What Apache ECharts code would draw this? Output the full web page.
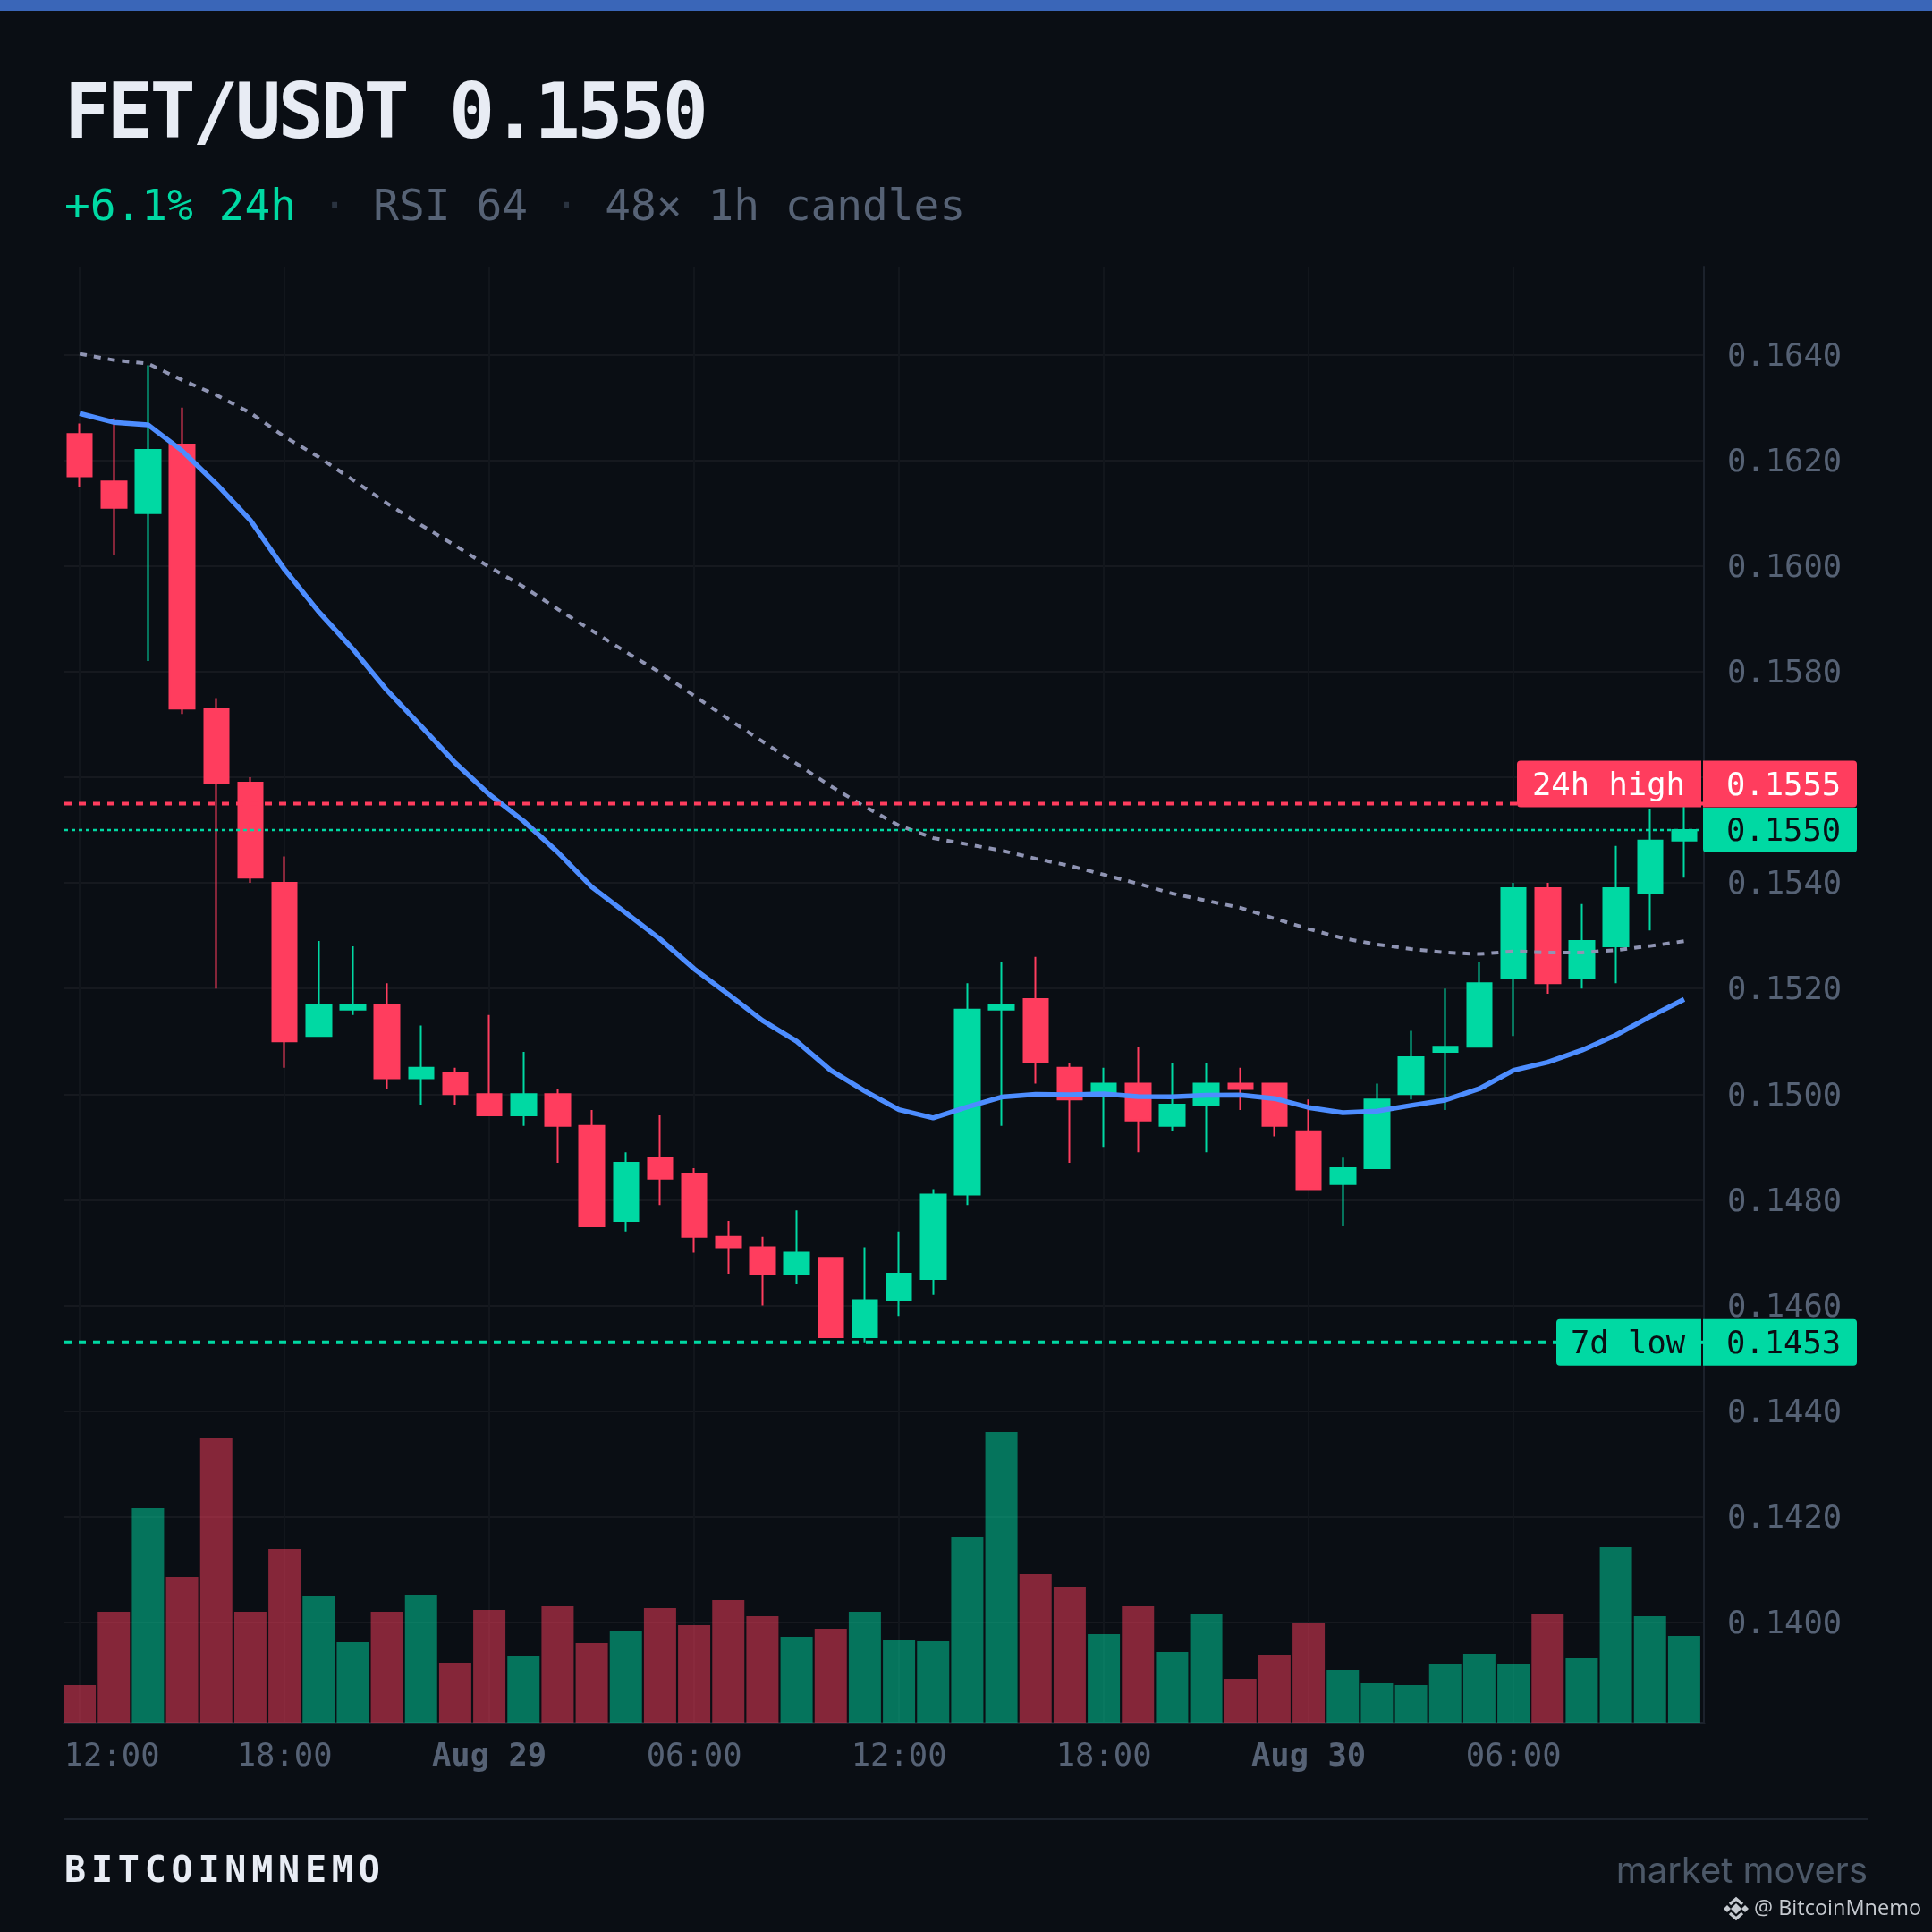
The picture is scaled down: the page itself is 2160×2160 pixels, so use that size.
<!DOCTYPE html>
<html>
<head>
<meta charset="utf-8">
<title>FET/USDT</title>
<style>html,body{margin:0;padding:0;background:#0a0e14}#c{width:2160px;height:2160px}</style>
<script src="https://cdn.jsdelivr.net/npm/echarts@6/dist/echarts.min.js"></script>
</head>
<body>
<div id="c"></div>
<script>
const categories = ['12:00','13:00','14:00','15:00','16:00','17:00','18:00','19:00','20:00','21:00','22:00','23:00',
  'Aug 29','01:00','02:00','03:00','04:00','05:00','06:00','07:00','08:00','09:00','10:00','11:00',
  '12:00','13:00','14:00','15:00','16:00','17:00','18:00','19:00','20:00','21:00','22:00','23:00',
  'Aug 30','01:00','02:00','03:00','04:00','05:00','06:00','07:00','08:00','09:00','10:00','11:00'];
const opens  = [.1625,.1616,.1610,.1623,.1573,.1559,.1540,.1511,.1516,.1517,.1503,.1504,.1500,.1496,.1500,.1494,.1476,.1488,.1485,.1473,.1471,.1466,.1469,.1454,.1461,.1465,.1481,.1516,.1518,.1505,.1500,.1502,.1494,.1498,.1502,.1502,.1493,.1483,.1486,.1500,.1508,.1509,.1522,.1539,.1522,.1528,.1538,.1548];
const closes = [.1617,.1611,.1622,.1573,.1559,.1541,.1510,.1517,.1517,.1503,.1505,.1500,.1496,.1500,.1494,.1475,.1487,.1484,.1473,.1471,.1466,.1470,.1454,.1461,.1466,.1481,.1516,.1517,.1506,.1499,.1502,.1495,.1498,.1502,.1501,.1494,.1482,.1486,.1499,.1507,.1509,.1521,.1539,.1521,.1529,.1539,.1548,.1550];
const lows   = [.1615,.1602,.1582,.1572,.1520,.1540,.1505,.1511,.1515,.1501,.1498,.1498,.1496,.1494,.1487,.1475,.1474,.1479,.1470,.1466,.1460,.1464,.1454,.1453,.1458,.1462,.1479,.1494,.1502,.1487,.1490,.1489,.1493,.1489,.1497,.1492,.1482,.1475,.1486,.1499,.1497,.1509,.1511,.1519,.1520,.1521,.1531,.1541];
const highs  = [.1627,.1628,.1638,.1630,.1575,.1560,.1545,.1529,.1528,.1521,.1513,.1505,.1515,.1508,.1501,.1497,.1489,.1496,.1486,.1476,.1473,.1478,.1469,.1471,.1474,.1482,.1521,.1525,.1526,.1506,.1505,.1509,.1506,.1506,.1505,.1502,.1499,.1488,.1502,.1512,.1520,.1525,.1540,.1540,.1536,.1547,.1554,.1555];
const volumes = [42,124,240,163,318,124,194,142,90,124,143,67,126,75,130,89,102,128,109,137,119,96,105,124,92,91,208,325,166,152,99,130,79,122,49,76,112,59,44,42,66,77,66,121,72,196,119,97];
const maFast = [.162889,.162720,.162674,.162183,.161556,.160867,.159936,.159135,.158429,.157649,.156967,.156273,.155675,.155172,.154584,.153924,.153433,.152937,.152373,.151892,.151396,.151001,.150452,.150058,.149707,.149549,.149758,.149944,.149995,.149990,.150007,.149956,.149951,.149978,.149985,.149917,.149748,.149651,.149680,.149787,.149888,.150103,.150452,.150605,.150832,.151119,.151468,.151797];
const maSlow = [.164017,.163898,.163831,.163521,.163238,.162899,.162449,.162064,.161629,.161189,.160777,.160388,.159981,.159609,.159185,.158779,.158373,.157983,.157543,.157102,.156679,.156256,.155832,.155443,.155087,.154850,.154732,.154613,.154461,.154325,.154156,.153986,.153800,.153665,.153529,.153326,.153128,.152953,.152835,.152750,.152682,.152654,.152705,.152682,.152682,.152728,.152806,.152898];
const priceTicks = [.1400,.1420,.1440,.1460,.1480,.1500,.1520,.1540,.1560,.1580,.1600,.1620,.1640];
const high24h = 0.1555, lastPrice = 0.1550, low7d = 0.1453;

const BG='#0a0e14', GREEN='#00d9a3', RED='#ff3d5e', BLUE='#4d8dff', SLATE='#8f94b3',
      MUTED='#566275', MONO='"DejaVu Sans Mono"', AXIS='#1c222c', GRID='#16191f', VGRID='#12161c';
const PRICE_MIN=0.1381, PRICE_MAX=0.16567, VOL_MAX=1628;

const chart = echarts.init(document.getElementById('c'), null, {renderer:'canvas', width:2160, height:2160});
const painter = chart.getZr().painter;
painter.getLayer(5).ctx.letterSpacing='-3.4px';
painter.getLayer(6).ctx.letterSpacing='5.8px';

const candleData = categories.map((_,i)=>[opens[i],closes[i],lows[i],highs[i]]);
const levelLine = (name,v,color,w,dash)=>({
  name,type:'line',xAxisIndex:0,yAxisIndex:0,data:[[0,v],[1,v]],symbol:'none',z:5,silent:true,
  lineStyle:{color,width:w,type:dash}
});

const topOption = {
  backgroundColor:BG, animation:false,
  grid:[
    {left:72,top:298,width:1833,height:1628,containLabel:false},
    {left:70,top:298,width:1832,height:1628,containLabel:false}
  ],
  xAxis:[
    {type:'value',gridIndex:0,min:0,max:1,axisLabel:{show:false},axisTick:{show:false},splitLine:{show:false},
     axisLine:{show:true,lineStyle:{color:AXIS,width:3}}},
    {type:'category',gridIndex:1,data:categories,boundaryGap:true,axisLine:{show:false},axisTick:{show:false},
     splitLine:{show:true,interval:5,alignWithLabel:true,lineStyle:{color:VGRID,width:2}},
     axisLabel:{interval:5,margin:21,fontFamily:MONO,fontSize:35.5,color:MUTED,
       formatter:(v,i)=> i===0 ? '{first|'+v+'}' : (v.startsWith('Aug') ? '{day|'+v+'}' : v),
       rich:{first:{fontFamily:MONO,fontSize:35.5,color:MUTED,padding:[0,0,0,72]},
             day:{fontFamily:MONO,fontSize:35.5,color:MUTED,fontWeight:'bold'}}}}
  ],
  yAxis:[
    {type:'value',gridIndex:0,position:'right',min:PRICE_MIN,max:PRICE_MAX,
     axisLine:{show:true,onZero:false,lineStyle:{color:AXIS,width:2}},
     axisTick:{show:false,customValues:priceTicks},
     splitLine:{show:true,lineStyle:{color:GRID,width:2}},
     axisLabel:{customValues:priceTicks,margin:26,fontFamily:MONO,fontSize:35.5,color:MUTED,
       formatter:v=>'{p|'+v.toFixed(4)+'}',
       rich:{p:{fontFamily:MONO,fontSize:35.5,color:MUTED,padding:[6,0,0,0]}}}},
    {type:'value',gridIndex:1,min:PRICE_MIN,max:PRICE_MAX,show:false,splitLine:{show:false}},
    {type:'value',gridIndex:1,min:0,max:VOL_MAX,show:false,splitLine:{show:false}}
  ],
  series:[
    {name:'Volume',type:'bar',xAxisIndex:1,yAxisIndex:2,barWidth:36,z:1,silent:true,
     data:volumes.map((v,i)=>({value:v,itemStyle:{color:closes[i]>=opens[i]?GREEN:RED,opacity:0.5}}))},
    {name:'FET/USDT',type:'candlestick',xAxisIndex:1,yAxisIndex:1,barWidth:28,z:2,silent:true,data:candleData,
     itemStyle:{color:GREEN,color0:RED,borderColor:GREEN,borderColor0:RED,borderWidth:2}},
    {name:'MA slow',type:'line',xAxisIndex:1,yAxisIndex:1,data:maSlow,symbol:'none',z:3,silent:true,
     lineStyle:{color:SLATE,width:4,type:[8,8]}},
    {name:'MA fast',type:'line',xAxisIndex:1,yAxisIndex:1,data:maFast,symbol:'none',z:4,silent:true,
     lineStyle:{color:BLUE,width:5.5}},
    levelLine('24h high',high24h,RED,4,[8,8]),
    levelLine('Last',lastPrice,GREEN,2.5,[4,4]),
    levelLine('7d low',low7d,GREEN,4,[8,8])
  ]
};
chart.setOption(topOption);

const py = v => chart.convertToPixel({yAxisIndex:0},v);
const box = (x,y,w,h,fill,r)=>({type:'rect',z:50,shape:{x,y,width:w,height:h,r},style:{fill}});
const label = (x,y,text,fill)=>({type:'text',z:51,x,y:y+3,style:{text,fill,font:'35.5px '+MONO,textAlign:'left',textVerticalAlign:'middle'}});
const yHigh=py(high24h)-22, yLast=py(lastPrice), yLow=py(low7d);

chart.setOption({graphic:{elements:[
  {type:'rect',z:40,shape:{x:0,y:0,width:2160,height:12},style:{fill:'#3a66b8'}},
  {type:'text',z:40,zlevel:5,x:72,y:132,style:{text:'FET/USDT 0.1550',fill:'#e8ecf4',font:'bold 85px '+MONO,textVerticalAlign:'middle'}},
  {type:'text',z:40,x:72,y:234,style:{
    text:'{g|+6.1% 24h} {d|·} {m|RSI 64} {d|·} {m|48× 1h candles}',
    font:'47.8px '+MONO,textVerticalAlign:'middle',
    rich:{g:{fill:GREEN,font:'47.8px '+MONO},d:{fill:'#2a3340',font:'47.8px '+MONO},m:{fill:MUTED,font:'47.8px '+MONO}}}},
  box(1696,yHigh-26,206,52,RED,[4,0,0,4]),
  box(1904,yHigh-26,172,52,RED,[0,4,4,0]),
  box(1904,yLast-25,172,50,GREEN,[0,0,4,4]),
  box(1740,yLow-26,162,52,GREEN,[4,0,0,4]),
  box(1904,yLow-26,172,52,GREEN,[0,4,4,0]),
  label(1713,yHigh,'24h high','#ffffff'),
  label(1930,yHigh,'0.1555','#ffffff'),
  label(1930,yLast,'0.1550',BG),
  label(1756,yLow,'7d low',BG),
  label(1930,yLow,'0.1453',BG),
  {type:'rect',z:40,shape:{x:72,y:2032,width:2016,height:3},style:{fill:AXIS}},
  {type:'text',z:40,zlevel:6,x:72,y:2094,style:{text:'BITCOINMNEMO',fill:'#e8ecf4',font:'bold 40px '+MONO,textVerticalAlign:'middle'}},
  {type:'text',z:40,x:2088,y:2093,style:{text:'market movers',fill:'#4c5868',font:'40px Inter',textAlign:'right',textVerticalAlign:'middle'}},
  {type:'polygon',z:40,shape:{points:[[1941,2128],[1947,2134],[1941,2140],[1935,2134]]},style:{fill:'#c6cad0'}},
  {type:'polygon',z:40,shape:{points:[[1931,2130],[1935,2134],[1931,2138],[1927,2134]]},style:{fill:'#c6cad0'}},
  {type:'polygon',z:40,shape:{points:[[1951,2130],[1955,2134],[1951,2138],[1947,2134]]},style:{fill:'#c6cad0'}},
  {type:'polyline',z:40,shape:{points:[[1934,2129],[1941,2123],[1948,2129]]},style:{stroke:'#c6cad0',lineWidth:3.5,fill:null}},
  {type:'polyline',z:40,shape:{points:[[1934,2139],[1941,2145],[1948,2139]]},style:{stroke:'#c6cad0',lineWidth:3.5,fill:null}},
  {type:'text',z:40,x:1961,y:2134,style:{text:'@ BitcoinMnemo',fill:'#c6cad0',font:'23.5px "Open Sans"',textVerticalAlign:'middle'}}
]}});
</script>
</body>
</html>
